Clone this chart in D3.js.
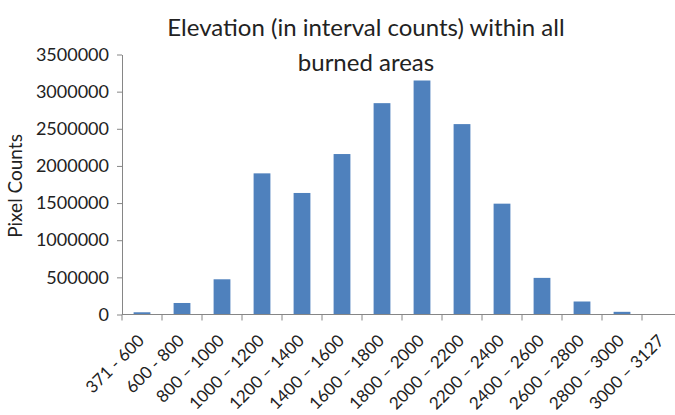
<!DOCTYPE html>
<html><head><meta charset="utf-8">
<script src="https://cdn.jsdelivr.net/npm/d3@7"></script>
<style>body{margin:0;background:#fff;overflow:hidden}svg{display:block}</style>
</head><body>
<script>
const categories = ["371 - 600","600 - 800","800 \u2013 1000","1000 \u2013 1200","1200 \u2013 1400","1400 \u2013 1600","1600 \u2013 1800","1800 \u2013 2000","2000 \u2013 2200","2200 \u2013 2400","2400 \u2013 2600","2600 \u2013 2800","2800 \u2013 3000","3000 \u2013 3127"];
const pixelCounts = [30000,155000,474000,1900000,1636000,2160000,2845000,3150000,2563000,1492000,493000,175000,36000,2000];
const yTicks = [0,500000,1000000,1500000,2000000,2500000,3000000,3500000];
const titleLines = ["Elevation (in interval counts) within all","burned areas"];
const yLabel = "Pixel Counts";

const W=675,H=415;
const font="Lato, 'Open Sans', sans-serif";
const svg=d3.select("body").append("svg").attr("width",W).attr("height",H)
  .style("font-family",font);

const x=d3.scaleBand().domain(categories).range([122,682]).paddingInner(0.58).paddingOuter(0.29);
const y=d3.scaleLinear().domain([0,3500000]).range([314.5,54.5]);
const axisColor="#868686";

// bars
svg.append("g").selectAll("rect").data(categories).join("rect")
  .attr("x",d=>x(d)).attr("width",x.bandwidth())
  .attr("y",(d,i)=>y(pixelCounts[i])).attr("height",(d,i)=>y(0)-y(pixelCounts[i]))
  .attr("fill","#4F81BD");

// y axis
const ya=svg.append("g").attr("transform","translate(122,0)")
  .call(d3.axisLeft(y).tickValues(yTicks).tickFormat(d3.format("d")).tickSize(5).tickSizeOuter(0).tickPadding(8));
ya.select(".domain").attr("stroke",axisColor);
ya.selectAll(".tick line").attr("stroke",axisColor);
ya.selectAll(".tick text").attr("fill","#222").style("font-size","18px").style("font-family",font);

// x axis
const step=x.step();
const xa=svg.append("g").attr("transform",`translate(0,${y(0)})`);
xa.append("line").attr("x1",122).attr("x2",W).attr("y1",0).attr("y2",0).attr("stroke",axisColor);
xa.selectAll("line.tk").data(d3.range(categories.length+1)).join("line").attr("class","tk")
  .attr("x1",i=>122+i*step).attr("x2",i=>122+i*step).attr("y1",0).attr("y2",6).attr("stroke",axisColor);
xa.selectAll("text").data(categories).join("text")
  .attr("transform",d=>`translate(${x(d)+x.bandwidth()/2-1},${23}) rotate(-45)`)
  .attr("text-anchor","end").attr("dy","0.35em")
  .attr("fill","#222").style("font-size","17px").text(d=>d);

// title
svg.append("g").selectAll("text").data(titleLines).join("text")
  .attr("x",366).attr("y",(d,i)=>36+i*35).attr("text-anchor","middle")
  .attr("fill","#222").style("font-size","24px").text(d=>d);

// y label
svg.append("text").attr("transform","translate(22,186) rotate(-90)")
  .attr("text-anchor","middle").attr("fill","#222").style("font-size","19px").text(yLabel);
</script>
</body></html>
